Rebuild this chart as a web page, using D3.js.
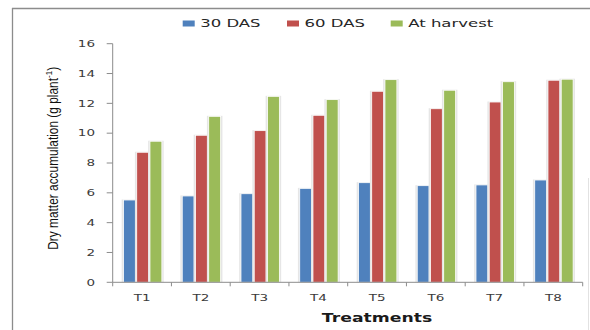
<!DOCTYPE html>
<html>
<head>
<meta charset="utf-8">
<script src="https://cdn.jsdelivr.net/npm/d3@7"></script>
<style>
  html, body { margin: 0; padding: 0; background: #fff; }
  svg { display: block; }
</style>
</head>
<body>
<svg id="chart" width="590" height="330"></svg>
<script>
// Dry matter accumulation per treatment at three growth stages
const treatments = ["T1", "T2", "T3", "T4", "T5", "T6", "T7", "T8"];
const seriesNames = ["30 DAS", "60 DAS", "At harvest"];
const das30   = [5.52, 5.79, 5.94, 6.30, 6.68, 6.48, 6.53, 6.86];
const das60   = [8.72, 9.86, 10.17, 11.20, 12.81, 11.64, 12.09, 13.55];
const harvest = [9.46, 11.13, 12.47, 12.25, 13.59, 12.88, 13.45, 13.62];
const yTicks  = [0, 2, 4, 6, 8, 10, 12, 14, 16];
const colors  = ["#4F81BD", "#C0504D", "#9BBB59"];

const seriesValues = [das30, das60, harvest];
const svg = d3.select("#chart");
const SX = 1.5; // horizontal glyph stretch used for all labels

// outer frame (top and left edges, faint right edge)
svg.append("line").attr("x1", 12).attr("x2", 590).attr("y1", 8.5).attr("y2", 8.5)
  .attr("stroke", "#8c8c8c").attr("stroke-width", 1.3);
svg.append("line").attr("x1", 12.5).attr("x2", 12.5).attr("y1", 8).attr("y2", 330)
  .attr("stroke", "#8c8c8c").attr("stroke-width", 1.3);
svg.append("line").attr("x1", 588.5).attr("x2", 588.5).attr("y1", 178).attr("y2", 330)
  .attr("stroke", "#e2e2e2").attr("stroke-width", 1);

const plot = { left: 112.7, right: 582.7, top: 43.7, bottom: 282.3 };

const x0 = d3.scaleBand().domain(treatments).range([plot.left, plot.right]).padding(0);
const groupW = 38.4;
const x1 = d3.scaleBand().domain(seriesNames).range([0, groupW]).paddingInner(0.1);
const y = d3.scaleLinear().domain([0, 16]).range([plot.bottom, plot.top]);

function stretchedText(sel, x, yy, anchor) {
  return sel.append("text")
    .attr("transform", `translate(${x},${yy}) scale(${SX},1)`)
    .attr("text-anchor", anchor);
}

// y axis
const yAxis = svg.append("g");
yAxis.append("line").attr("x1", plot.left).attr("x2", plot.left)
  .attr("y1", plot.top).attr("y2", plot.bottom).attr("stroke", "#8c8c8c");
yTicks.forEach(t => {
  yAxis.append("line").attr("x1", plot.left - 6).attr("x2", plot.left)
    .attr("y1", y(t)).attr("y2", y(t)).attr("stroke", "#8c8c8c");
  stretchedText(yAxis, 95, y(t) + 3.3, "end")
    .attr("font-family", "DejaVu Sans").attr("font-size", 9).attr("fill", "#3a3a3a")
    .text(t);
});

// x axis
const xAxis = svg.append("g");
xAxis.append("line").attr("x1", plot.left).attr("x2", plot.right)
  .attr("y1", plot.bottom).attr("y2", plot.bottom).attr("stroke", "#8c8c8c");
const bounds = treatments.map(t => x0(t)).concat([plot.right]);
bounds.forEach(b => {
  xAxis.append("line").attr("x1", b).attr("x2", b)
    .attr("y1", plot.bottom).attr("y2", plot.bottom + 4).attr("stroke", "#8c8c8c");
});
treatments.forEach(t => {
  stretchedText(xAxis, x0(t) + x0.bandwidth() / 2, 300.7, "middle")
    .attr("font-family", "DejaVu Sans").attr("font-size", 9).attr("fill", "#3a3a3a")
    .text(t);
});

// bars with a soft shadow
const groups = svg.append("g").selectAll("g").data(treatments).join("g")
  .attr("transform", t => `translate(${x0(t) + x0.bandwidth() / 2 - groupW / 2 + 0.6},0)`);

seriesNames.forEach((s, si) => {
  groups.append("rect")
    .attr("x", x1(s) - 1.8)
    .attr("y", (t, i) => y(seriesValues[si][i]) - 0.5)
    .attr("width", x1.bandwidth() + 3.6)
    .attr("height", (t, i) => plot.bottom - y(seriesValues[si][i]) + 0.5)
    .attr("fill", "#e6e6e6");
  groups.append("rect")
    .attr("x", x1(s))
    .attr("y", (t, i) => y(seriesValues[si][i]))
    .attr("width", x1.bandwidth())
    .attr("height", (t, i) => plot.bottom - y(seriesValues[si][i]))
    .attr("fill", colors[si])
    .attr("stroke", "#ffffff").attr("stroke-width", 0.8);
});
// keep axis lines on top of the bar shadows
yAxis.raise();
xAxis.raise();

// legend
const legendX = [182.7, 287, 390.7];
seriesNames.forEach((s, i) => {
  svg.append("rect").attr("x", legendX[i]).attr("y", 20.5)
    .attr("width", 12).attr("height", 6).attr("fill", colors[i]);
  stretchedText(svg, legendX[i] + 17.5, 27.3, "start")
    .attr("font-family", "DejaVu Sans").attr("font-size", 11).attr("fill", "#262626")
    .text(s);
});

// axis titles
stretchedText(svg, 377, 322.3, "middle")
  .attr("font-family", "DejaVu Sans").attr("font-size", 11.5).attr("font-weight", "bold")
  .attr("fill", "#1a1a1a").text("Treatments");

// vertical title: tall, condensed glyphs spanning a fixed length along the axis
const yTitle = svg.append("text")
  .attr("text-anchor", "middle")
  .attr("font-family", "Liberation Sans").attr("font-size", 11).attr("fill", "#111");
yTitle.append("tspan").text("Dry matter accumulation (g plant");
yTitle.append("tspan").attr("dy", -4.5).attr("font-size", 7.5).text("-1");
yTitle.append("tspan").attr("dy", 4.5).text(")");
const titleLen = yTitle.node().getBBox().width;
const along = 183 / titleLen;
yTitle.attr("transform", `translate(57.5,158.3) scale(1.25,${along}) rotate(-90)`);
</script>
</body>
</html>
